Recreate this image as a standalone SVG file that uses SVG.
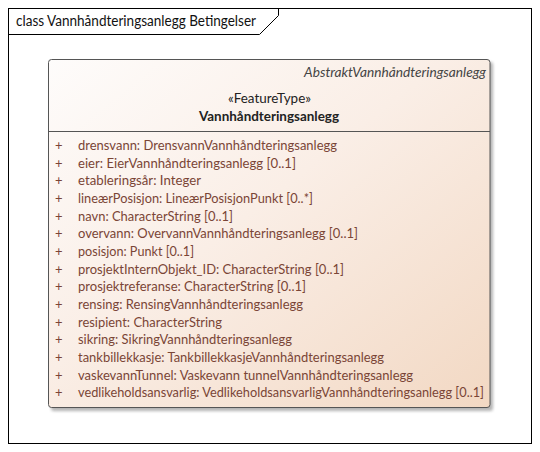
<svg xmlns="http://www.w3.org/2000/svg" width="540" height="452" viewBox="0 0 540 452">
<defs>
<linearGradient id="fill" x1="0" y1="0" x2="1" y2="1">
<stop offset="0" stop-color="#fefcfb"/>
<stop offset="0.45" stop-color="#faeee6"/>
<stop offset="1" stop-color="#f2d8c3"/>
</linearGradient>
<filter id="sh" x="-5%" y="-5%" width="110%" height="110%">
<feGaussianBlur stdDeviation="1.5"/>
</filter>
</defs>
<style>
text{font-family:Lato,"Liberation Sans",sans-serif;}
.attr{font-size:13px;fill:#7a4536;}
.plus{font-size:13px;fill:#7a4536;}
.frame{fill:none;stroke:#000;stroke-width:1;}
</style>
<rect x="0" y="0" width="540" height="452" fill="#fff"/>
<g id="frame">
<rect class="frame" x="8.5" y="8.5" width="523" height="435"/>
<path class="frame" d="M8.5 34.5 H259.5 L278.5 15.5 V8.5"/>
<text x="16" y="26" font-size="14.5" fill="#111" textLength="240" lengthAdjust="spacingAndGlyphs">class Vannhåndteringsanlegg Betingelser</text>
</g>
<g id="Vannhandteringsanlegg">
<rect x="51" y="62" width="442" height="349" rx="3" fill="#777" opacity="0.55" filter="url(#sh)"/>
<rect x="48.5" y="59.5" width="441.5" height="348" rx="3" fill="url(#fill)" stroke="#555" stroke-width="1"/>
<line x1="48.5" y1="131.5" x2="490" y2="131.5" stroke="#555" stroke-width="1"/>
<text x="486" y="77" font-size="13" font-style="italic" fill="#444" text-anchor="end" textLength="182" lengthAdjust="spacingAndGlyphs">AbstraktVannhåndteringsanlegg</text>
<text x="269.5" y="103" font-size="13" fill="#222" text-anchor="middle" textLength="83" lengthAdjust="spacingAndGlyphs">«FeatureType»</text>
<text x="269" y="121" font-size="13" font-weight="bold" fill="#222" text-anchor="middle" textLength="140" lengthAdjust="spacingAndGlyphs">Vannhåndteringsanlegg</text>
<g class="plus">
<text x="55" y="150">+</text>
<text x="55" y="167.6">+</text>
<text x="55" y="185.3">+</text>
<text x="55" y="203">+</text>
<text x="55" y="220.6">+</text>
<text x="55" y="238.3">+</text>
<text x="55" y="255.9">+</text>
<text x="55" y="273.6">+</text>
<text x="55" y="291.2">+</text>
<text x="55" y="308.9">+</text>
<text x="55" y="326.5">+</text>
<text x="55" y="344.2">+</text>
<text x="55" y="361.8">+</text>
<text x="55" y="379.5">+</text>
<text x="55" y="397.1">+</text>
</g>
<g class="attr">
<text x="78" y="150" textLength="259" lengthAdjust="spacingAndGlyphs">drensvann: DrensvannVannhåndteringsanlegg</text>
<text x="78" y="167.6" textLength="218" lengthAdjust="spacingAndGlyphs">eier: EierVannhåndteringsanlegg [0..1]</text>
<text x="78" y="185.3" textLength="123" lengthAdjust="spacingAndGlyphs">etableringsår: Integer</text>
<text x="78" y="203" textLength="235" lengthAdjust="spacingAndGlyphs">lineærPosisjon: LineærPosisjonPunkt [0..*]</text>
<text x="78" y="220.6" textLength="155" lengthAdjust="spacingAndGlyphs">navn: CharacterString [0..1]</text>
<text x="78" y="238.3" textLength="280" lengthAdjust="spacingAndGlyphs">overvann: OvervannVannhåndteringsanlegg [0..1]</text>
<text x="78" y="255.9" textLength="116" lengthAdjust="spacingAndGlyphs">posisjon: Punkt [0..1]</text>
<text x="78" y="273.6" textLength="266" lengthAdjust="spacingAndGlyphs">prosjektInternObjekt_ID: CharacterString [0..1]</text>
<text x="78" y="291.2" textLength="228" lengthAdjust="spacingAndGlyphs">prosjektreferanse: CharacterString [0..1]</text>
<text x="78" y="308.9" textLength="225" lengthAdjust="spacingAndGlyphs">rensing: RensingVannhåndteringsanlegg</text>
<text x="78" y="326.5" textLength="144" lengthAdjust="spacingAndGlyphs">resipient: CharacterString</text>
<text x="78" y="344.2" textLength="214" lengthAdjust="spacingAndGlyphs">sikring: SikringVannhåndteringsanlegg</text>
<text x="78" y="361.8" textLength="306" lengthAdjust="spacingAndGlyphs">tankbillekkasje: TankbillekkasjeVannhåndteringsanlegg</text>
<text x="78" y="379.5" textLength="335" lengthAdjust="spacingAndGlyphs">vaskevannTunnel: Vaskevann tunnelVannhåndteringsanlegg</text>
<text x="78" y="397.1" textLength="406" lengthAdjust="spacingAndGlyphs">vedlikeholdsansvarlig: VedlikeholdsansvarligVannhåndteringsanlegg [0..1]</text>
</g>
</g>
<g id="connectors"/>
</svg>
